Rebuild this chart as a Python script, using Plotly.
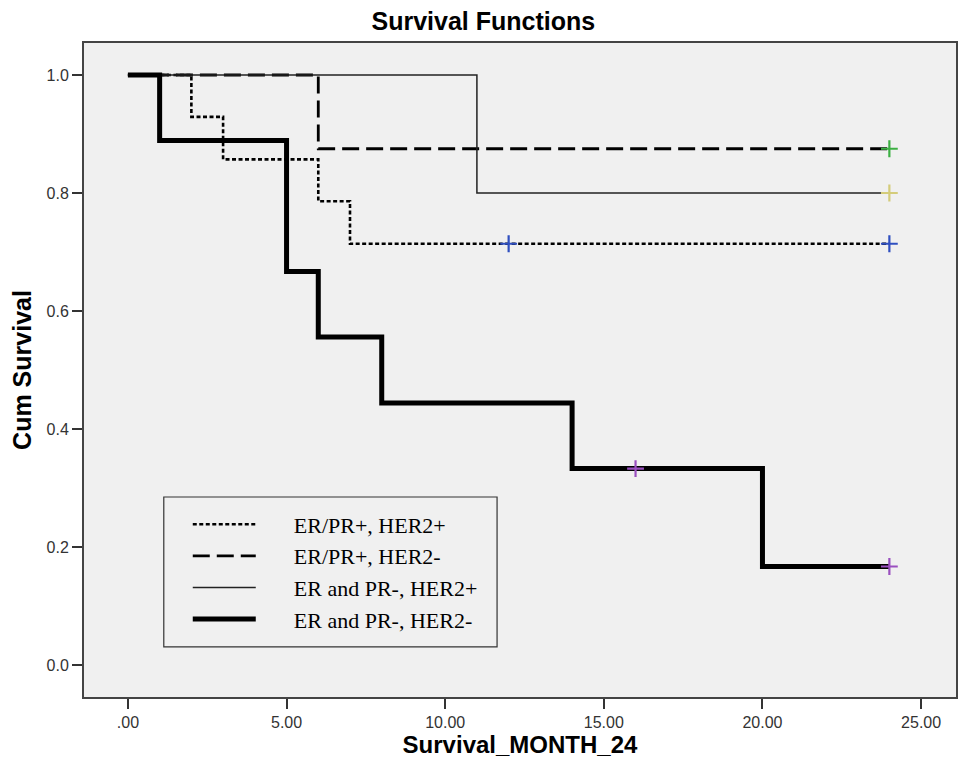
import plotly.graph_objects as go

# Data (Kaplan-Meier step points; last point = end of follow-up)
g1_name = "ER/PR+, HER2+"
g1_t = [0, 2, 3, 6, 7, 24]
g1_s = [1.0, 0.929, 0.857, 0.786, 0.714, 0.714]
g1_ct = [12, 24]
g1_cs = [0.714, 0.714]

g2_name = "ER/PR+, HER2-"
g2_t = [0, 6, 24]
g2_s = [1.0, 0.875, 0.875]
g2_ct = [24]
g2_cs = [0.875]

g3_name = "ER and PR-, HER2+"
g3_t = [0, 11, 24]
g3_s = [1.0, 0.8, 0.8]
g3_ct = [24]
g3_cs = [0.8]

g4_name = "ER and PR-, HER2-"
g4_t = [0, 1, 5, 6, 8, 14, 20, 24]
g4_s = [1.0, 0.889, 0.667, 0.556, 0.444, 0.333, 0.167, 0.167]
g4_ct = [16, 24]
g4_cs = [0.333, 0.167]

x_ticks = [0, 5, 10, 15, 20, 25]
x_labels = [".00", "5.00", "10.00", "15.00", "20.00", "25.00"]
y_ticks = [0, 0.2, 0.4, 0.6, 0.8, 1.0]
y_labels = ["0.0", "0.2", "0.4", "0.6", "0.8", "1.0"]

PAD = "\u00a0" * 6  # gap between legend sample and legend text

fig = go.Figure()

styles = [
    (g1_name, g1_t, g1_s, g1_ct, g1_cs, dict(color="black", width=2.6, dash="4px,2.5px"), "#2f4fc0"),
    (g2_name, g2_t, g2_s, g2_ct, g2_cs, dict(color="black", width=2.8, dash="17px,7px"), "#3cb043"),
    (g3_name, g3_t, g3_s, g3_ct, g3_cs, dict(color="#222222", width=1.5), "#d4cc7a"),
    (g4_name, g4_t, g4_s, g4_ct, g4_cs, dict(color="black", width=5), "#9a4fbf"),
]

for name, t, s, ct, cs, line, ccol in styles:
    fig.add_trace(go.Scatter(x=t, y=s, mode="lines", line=line, line_shape="hv",
                             name=PAD + name, showlegend=True))
for name, t, s, ct, cs, line, ccol in styles:
    fig.add_trace(go.Scatter(x=ct, y=cs, mode="markers", showlegend=False,
                             marker=dict(symbol="cross-thin", size=12,
                                         line=dict(color=ccol, width=2.2))))

axis_common = dict(showline=True, linecolor="#444444", linewidth=2, mirror=True,
                   showgrid=False, zeroline=False, ticks="outside",
                   tickwidth=1.5, tickcolor="#333333",
                   tickfont=dict(family="Liberation Sans, Arial", size=16, color="#333333"))

fig.update_layout(
    width=959, height=774,
    paper_bgcolor="white", plot_bgcolor="#f0f0f0",
    margin=dict(l=84, r=1, t=43, b=77),
    title=dict(text="<b>Survival Functions</b>", x=0.504, xanchor="center", y=0.972, yanchor="middle",
               font=dict(family="Liberation Sans, Arial", size=25, color="black")),
    xaxis=dict(range=[-1.384, 26.1], tickvals=x_ticks, ticktext=x_labels, ticklen=10,
               title=dict(text="<b>Survival_MONTH_24</b>", standoff=2,
                          font=dict(family="Liberation Sans, Arial", size=24, color="black")),
               **axis_common),
    yaxis=dict(range=[-0.0542, 1.0542], tickvals=y_ticks, ticktext=y_labels, ticklen=10,
               title=dict(text="<b>Cum Survival</b>", standoff=8,
                          font=dict(family="Liberation Sans, Arial", size=25, color="black")),
               **axis_common),
    legend=dict(x=0.119, y=0.296, xanchor="left", yanchor="top",
                bgcolor="rgba(0,0,0,0)", borderwidth=0,
                font=dict(family="Liberation Serif, Times New Roman", size=22, color="black"),
                itemwidth=63, tracegroupgap=0),
    shapes=[dict(type="rect", xref="paper", yref="paper",
                 x0=0.0915, x1=0.4737, y0=0.0765, y1=0.3058,
                 line=dict(color="#333333", width=1.2), fillcolor="rgba(0,0,0,0)", layer="above")],
    showlegend=True,
)

fig.write_html("out.html", config={"displayModeBar": False},
               post_script="document.body.style.margin='0px';")
